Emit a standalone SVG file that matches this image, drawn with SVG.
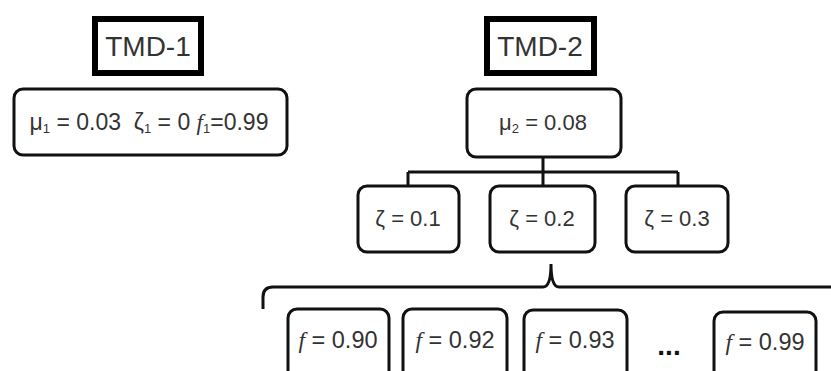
<svg xmlns="http://www.w3.org/2000/svg" width="831" height="371" viewBox="0 0 831 371">
<style>
.hdr{fill:#fff;stroke:#000;stroke-width:6}
.box{fill:#fff;stroke:#111;stroke-width:3}
.t{font-family:"Liberation Sans",Arial,sans-serif;fill:#333;text-anchor:middle;white-space:pre}
.big{font-size:28px}
.mid{font-size:22px}
.fs{font-size:23.5px}
.sub{font-size:13px}
.f{font-family:"Liberation Serif",serif;font-style:italic}
.con{fill:none;stroke:#111;stroke-width:3}
</style>
<rect width="831" height="371" fill="#fff"/>
<g id="connectors">
<path class="con" d="M543 158 V172 M408 172 H678 M408 172 V185 M543 172 V185 M678 172 V185"/>
<path class="con" d="M263 309 V297 Q263 287 273 287 H543 Q551 287 551 264 Q551 287 559 287 H831"/>
</g>
<g id="tmd1">
<rect class="hdr" x="95" y="19" width="106" height="54"/>
<text class="t big" x="148" y="56">TMD-1</text>
</g>
<g id="tmd2">
<rect class="hdr" x="487" y="19" width="107" height="54"/>
<text class="t big" x="540" y="56">TMD-2</text>
</g>
<g id="mu1">
<rect class="box" x="14" y="89" width="273" height="66" rx="9"/>
<text class="t" style="font-size:23px" x="149" y="130">μ<tspan class="sub" dy="3">1</tspan><tspan dy="-3"> = 0.03  ζ</tspan><tspan class="sub" dy="3">1</tspan><tspan dy="-3"> = 0 </tspan><tspan class="f">f</tspan><tspan class="sub" dy="3">1</tspan><tspan dy="-3">=0.99</tspan></text>
</g>
<g id="mu2">
<rect class="box" x="467" y="89" width="154" height="68" rx="9"/>
<text class="t mid" x="543" y="130">μ<tspan class="sub" dy="3">2</tspan><tspan dy="-3"> = 0.08</tspan></text>
</g>
<g id="z1">
<rect class="box" x="358" y="186" width="101" height="66" rx="9"/>
<text class="t mid" x="408" y="226">ζ = 0.1</text>
</g>
<g id="z2">
<rect class="box" x="490" y="186" width="105" height="66" rx="9"/>
<text class="t mid" x="542" y="226">ζ = 0.2</text>
</g>
<g id="z3">
<rect class="box" x="626" y="186" width="102" height="66" rx="9"/>
<text class="t mid" x="677" y="226">ζ = 0.3</text>
</g>
<g id="f90">
<rect class="box" x="288" y="309" width="101" height="80" rx="9"/>
<text class="t fs" x="338" y="348"><tspan class="f">f</tspan> = 0.90</text>
</g>
<g id="f92">
<rect class="box" x="403" y="309" width="104" height="80" rx="9"/>
<text class="t fs" x="455" y="348"><tspan class="f">f</tspan> = 0.92</text>
</g>
<g id="f93">
<rect class="box" x="524" y="310" width="103" height="80" rx="9"/>
<text class="t fs" x="575" y="348"><tspan class="f">f</tspan> = 0.93</text>
</g>
<g id="dots">
<text class="t" x="669" y="355" style="font-size:28px;font-weight:bold;fill:#111">...</text>
</g>
<g id="f99">
<rect class="box" x="714" y="312" width="102" height="80" rx="9"/>
<text class="t fs" x="765" y="350"><tspan class="f">f</tspan> = 0.99</text>
</g>
</svg>
